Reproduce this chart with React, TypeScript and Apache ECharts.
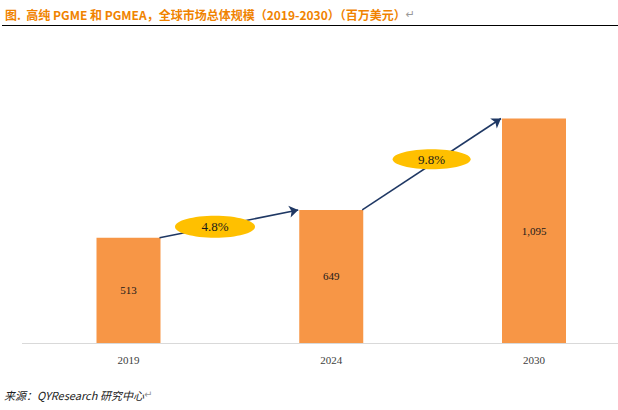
import React, { useEffect, useRef } from "react";
import * as echarts from "echarts";

const categories = ["2019", "2024", "2030"];
const values = [513, 649, 1095];
const growthRates = ["4.8%", "9.8%"];
const titleText = "图.  高纯 PGME 和 PGMEA，全球市场总体规模（2019-2030）（百万美元）";
const sourceText = "来源：QYResearch 研究中心";

const BAR_W = 64;

export default function App() {
  const ref = useRef<HTMLDivElement>(null);
  useEffect(() => {
    if (!ref.current) return;
    const chart = echarts.init(ref.current, null, { renderer: "svg" });
    const base: any = {
      animation: false,
      backgroundColor: "#ffffff",
      grid: { left: 128.5, right: 84, top: 97, height: 246 },
      xAxis: {
        type: "category",
        data: categories,
        boundaryGap: false,
        axisLine: { show: false },
        axisTick: { show: false },
        axisLabel: { margin: 11, color: "#404040", fontFamily: "Liberation Serif", fontSize: 11 },
      },
      yAxis: { type: "value", min: 0, max: 1200, show: false, splitLine: { show: false } },
      series: [
        {
          type: "bar",
          data: values,
          barWidth: BAR_W,
          itemStyle: { color: "#F79646" },
          label: {
            show: true,
            position: "inside",
            color: "#1a1a1a",
            fontFamily: "Liberation Serif",
            fontSize: 11,
            formatter: (p: any) => p.value.toLocaleString("en-US"),
          },
        },
      ],
    };
    chart.setOption(base);

    const px = values.map((v, i) => chart.convertToPixel({ gridIndex: 0 }, [categories[i], v]) as number[]);
    const baseY = (chart.convertToPixel({ gridIndex: 0 }, [categories[0], 0]) as number[])[1];
    const segs: any[] = [];
    const graphics: any[] = [];
    const tPos = [0.4, 0.5];
    const yOff = [0, -5];
    const ell = [
      [40, 11],
      [39, 10],
    ];
    for (let i = 0; i < px.length - 1; i++) {
      const x1 = px[i][0] + BAR_W / 2 - 1;
      const y1 = px[i][1];
      const x2 = px[i + 1][0] - BAR_W / 2 - 1;
      const y2 = px[i + 1][1];
      segs.push([{ x: x1, y: y1 }, { x: x2, y: y2 }]);
      const cx = x1 + (x2 - x1) * tPos[i];
      const cy = y1 + (y2 - y1) * tPos[i] + yOff[i];
      graphics.push({
        type: "group",
        z: 100,
        children: [
          { type: "ellipse", shape: { cx, cy, rx: ell[i][0], ry: ell[i][1] }, style: { fill: "#FFC000" }, z: 100 },
          {
            type: "text",
            x: cx,
            y: cy,
            z: 101,
            style: {
              text: "{s|" + growthRates[i] + "}",
              rich: {
                s: { fill: "#1a1a1a", fontFamily: "Liberation Serif", fontSize: 13 },
              },
              align: "center",
              verticalAlign: "middle",
            },
          },
        ],
      });
    }

    chart.setOption({
      series: [
        {
          markLine: {
            silent: true,
            symbol: ["none", "arrow"],
            symbolSize: 9,
            label: { show: false },
            lineStyle: { color: "#1F3864", width: 1.6, type: "solid" },
            data: segs,
          },
        },
      ],
      graphic: [
        {
          type: "line",
          z: -1,
          shape: { x1: 22, y1: baseY + 0.5, x2: 618, y2: baseY + 0.5 },
          style: { stroke: "#d9d9d9", lineWidth: 1 },
        },
        {
          type: "text",
          left: 5,
          top: 8,
          style: {
            text: "{a|" + titleText + "}{b|↵}",
            rich: {
              a: { fill: "#F08300", fontFamily: "Noto Sans CJK SC", fontWeight: "bold", fontSize: 12 },
              b: { fill: "#999999", fontFamily: "DejaVu Sans", fontSize: 11 },
            },
          },
        },
        {
          type: "line",
          shape: { x1: 2, y1: 25.5, x2: 618, y2: 25.5 },
          style: { stroke: "#000000", lineWidth: 1.2 },
        },
        {
          type: "text",
          left: 4,
          top: 389,
          style: {
            text: "{a|" + sourceText + "}{b|↵}",
            rich: {
              a: { fill: "#222222", fontFamily: "Noto Sans CJK SC", fontStyle: "italic", fontSize: 11 },
              b: { fill: "#999999", fontFamily: "DejaVu Sans", fontSize: 10 },
            },
          },
        },
        ...graphics,
      ],
    });

    return () => chart.dispose();
  }, []);
  return <div ref={ref} style={{ position: "fixed", left: 0, top: 0, width: 618, height: 410 }} />;
}
